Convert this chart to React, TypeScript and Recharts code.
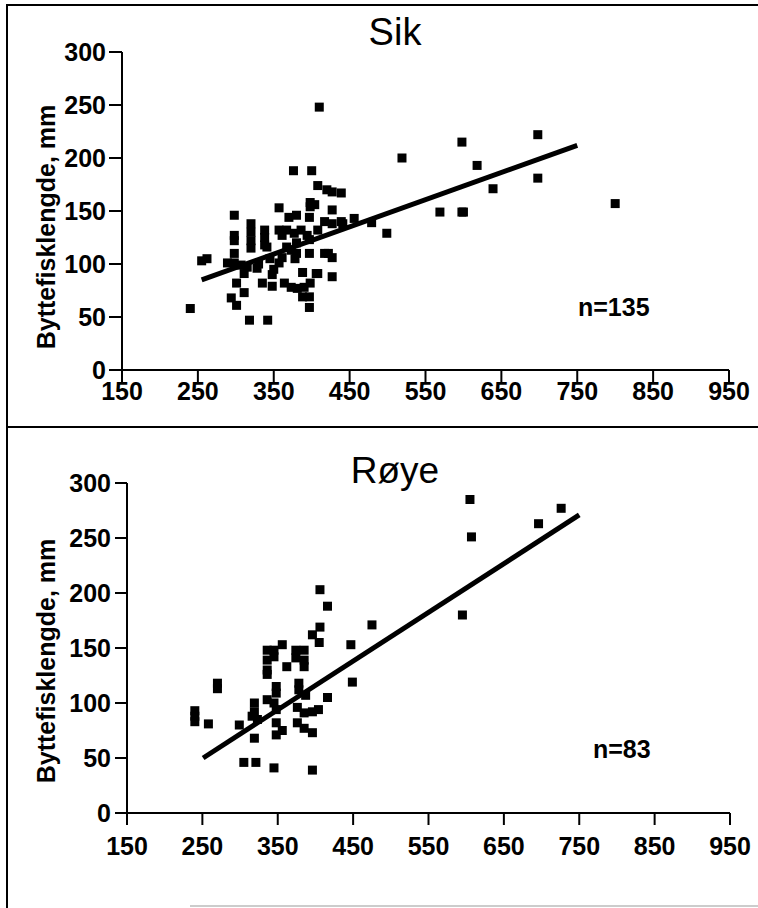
import React from "react";
import { ScatterChart, Scatter, XAxis, YAxis, ReferenceLine } from "recharts";

// Sik (whitefish): predator length vs prey-fish length, mm
const sikLength = [
  240, 255, 262, 289, 294, 298, 298, 298, 298, 298, 301, 301, 307, 311, 311, 315,
  318, 320, 320, 320, 320, 328, 335, 338, 338, 338, 341, 342, 348, 348, 357, 357,
  357, 361, 361, 364, 367, 367, 370, 373, 373, 376, 377, 378, 380, 380, 381, 386,
  388, 388, 390, 394, 397, 397, 397, 397, 397, 398, 398, 398, 400, 404, 406, 408,
  408, 408, 410, 417, 417, 420, 422, 427, 427, 427, 427, 427, 439, 439, 441, 456,
  479, 499, 519, 569, 598, 598, 600, 618, 639, 698, 698, 800, 380, 345, 330, 350,
];
const sikPrey = [
  58, 103, 105, 101, 68, 146, 127, 122, 110, 101, 82, 61, 99, 91, 73, 97,
  47, 138, 130, 122, 115, 96, 82, 132, 125, 118, 116, 47, 90, 79, 153, 132,
  101, 127, 106, 82, 116, 132, 144, 113, 78, 188, 129, 105, 110, 146, 77, 132,
  92, 69, 78, 127, 144, 123, 110, 69, 59, 158, 154, 82, 188, 156, 91, 174,
  132, 91, 248, 140, 110, 170, 110, 151, 138, 106, 88, 168, 167, 140, 138, 143,
  139, 129, 200, 149, 215, 149, 149, 193, 171, 222, 181, 157, 120, 105, 100, 95,
];
const sikFitX = [255, 750];
const sikFitY = [85, 212];

// Røye (charr)
const royeLength = [
  240, 240, 240, 258, 270, 270, 299, 305, 316, 319, 319, 319, 321, 323, 336, 336,
  336, 336, 336, 345, 345, 345, 345, 348, 348, 348, 348, 348, 356, 356, 362, 374,
  374, 376, 376, 378, 378, 385, 385, 385, 385, 385, 387, 396, 396, 396, 396, 404,
  405, 406, 406, 416, 416, 447, 449, 475, 595, 605, 607, 696, 726,
];
const royePrey = [
  93, 88, 83, 81, 118, 113, 80, 46, 88, 100, 92, 68, 46, 85, 148, 139,
  130, 126, 103, 148, 142, 100, 41, 115, 109, 94, 82, 71, 153, 75, 133, 148,
  141, 96, 82, 118, 112, 148, 139, 133, 91, 77, 107, 162, 92, 73, 39, 94,
  155, 203, 169, 188, 105, 153, 119, 171, 180, 285, 251, 263, 277,
];
const royeFitX = [251, 750];
const royeFitY = [50, 271];

const xTicks = [150, 250, 350, 450, 550, 650, 750, 850, 950];
const yTicks = [0, 50, 100, 150, 200, 250, 300];

const FONT = "'Liberation Sans', Arial, Helvetica, sans-serif";

const toPoints = (xs: number[], ys: number[]) => xs.map((x, i) => ({ x, y: ys[i] }));

const Square = (props: any) => {
  const { cx, cy } = props;
  if (cx == null || cy == null) return null;
  return <rect x={cx - 4.5} y={cy - 4.5} width={9} height={9} fill="#000" />;
};

const tickStyle = { fill: "#000", fontSize: 25, fontWeight: "bold" as const, fontFamily: FONT };
const axisLine = { stroke: "#000", strokeWidth: 2 };
const tickLine = { stroke: "#000", strokeWidth: 2 };

interface PanelProps {
  top: number;
  height: number;
  margin: { top: number; right: number; bottom: number; left: number };
  yWidth: number;
  yTickSize: number;
  yTickMargin: number;
  xTickMargin: number;
  points: { x: number; y: number }[];
  fit: { x: number; y: number }[];
}

function Panel({ top, height, margin, yWidth, yTickSize, yTickMargin, xTickMargin, points, fit }: PanelProps) {
  return (
    <div style={{ position: "absolute", left: 0, top, width: 758, height }}>
      <ScatterChart width={758} height={height} margin={margin}>
        <XAxis
          type="number"
          dataKey="x"
          domain={[150, 950]}
          ticks={xTicks}
          interval={0}
          height={30}
          tick={tickStyle}
          tickSize={12}
          tickMargin={xTickMargin}
          axisLine={axisLine}
          tickLine={tickLine}
          allowDataOverflow
        />
        <YAxis
          type="number"
          dataKey="y"
          domain={[0, 300]}
          ticks={yTicks}
          interval={0}
          width={yWidth}
          tick={tickStyle}
          tickSize={yTickSize}
          tickMargin={yTickMargin}
          axisLine={axisLine}
          tickLine={tickLine}
          allowDataOverflow
        />
        <Scatter data={points} shape={Square} isAnimationActive={false} />
        <ReferenceLine
          segment={fit}
          stroke="#000"
          strokeWidth={5}
          ifOverflow="visible"
        />
      </ScatterChart>
    </div>
  );
}

export default function App() {
  const sik = toPoints(sikLength, sikPrey);
  const roye = toPoints(royeLength, royePrey);
  const sikLine = toPoints(sikFitX, sikFitY);
  const royeLine = toPoints(royeFitX, royeFitY);

  return (
    <div style={{ position: "absolute", left: 0, top: 0, width: 758, height: 908, background: "#fff", overflow: "hidden" }}>
      <svg width={758} height={908} style={{ position: "absolute", left: 0, top: 0 }}>
        <line x1={7} y1={5} x2={758} y2={5} stroke="#000" strokeWidth={2} />
        <line x1={7} y1={4} x2={7} y2={908} stroke="#000" strokeWidth={2} />
        <line x1={7} y1={427} x2={758} y2={427} stroke="#000" strokeWidth={2} />
        <line x1={190} y1={906} x2={758} y2={906} stroke="#999" strokeWidth={1} />
        <g fontFamily={FONT} fill="#000">
          <text x={395} y={45} fontSize={38} textAnchor="middle">Sik</text>
          <text x={395} y={483} fontSize={37} textAnchor="middle">Røye</text>
          <text x={578} y={316} fontSize={25} fontWeight="bold">n=135</text>
          <text x={593} y={758} fontSize={25} fontWeight="bold">n=83</text>
          <text transform="translate(55,227) rotate(-90)" fontSize={25} fontWeight="bold" textAnchor="middle">
            Byttefisklengde, mm
          </text>
          <text transform="translate(55,661) rotate(-90)" fontSize={25} fontWeight="bold" textAnchor="middle">
            Byttefisklengde, mm
          </text>
        </g>
      </svg>
      <Panel
        top={0}
        height={427}
        margin={{ top: 52, right: 29, bottom: 27, left: 0 }}
        yWidth={122}
        yTickSize={13}
        yTickMargin={3}
        xTickMargin={0}
        points={sik}
        fit={sikLine}
      />
      <Panel
        top={427}
        height={481}
        margin={{ top: 56, right: 28, bottom: 65, left: 0 }}
        yWidth={127}
        yTickSize={12}
        yTickMargin={4}
        xTickMargin={12}
        points={roye}
        fit={royeLine}
      />
    </div>
  );
}
